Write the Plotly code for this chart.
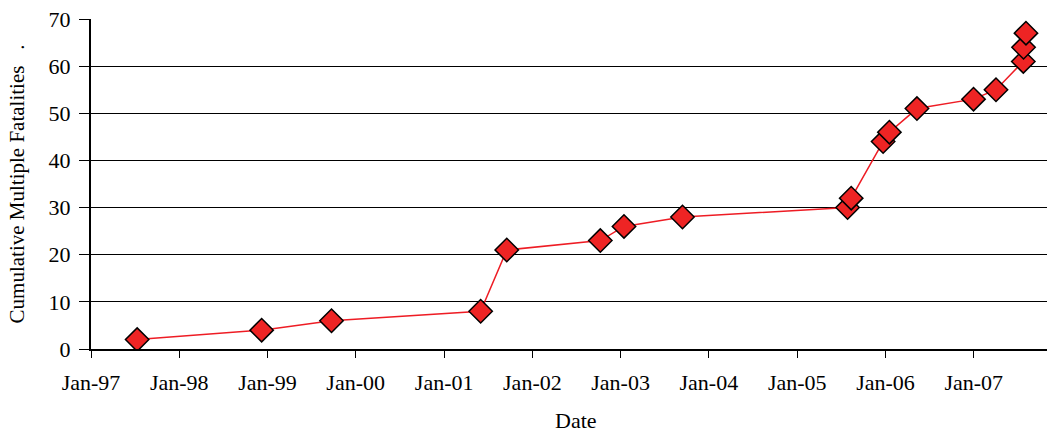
import plotly.graph_objects as go

dates = ["1997-07-11", "1998-12-08", "1999-09-23", "2001-06-01", "2001-09-17",
         "2002-10-09", "2003-01-15", "2003-09-14", "2005-07-28", "2005-08-12",
         "2005-12-22", "2006-01-17", "2006-05-11", "2006-12-31", "2007-04-03",
         "2007-07-25", "2007-07-26", "2007-08-05"]
cumulative = [2, 4, 6, 8, 21, 23, 26, 28, 30, 32, 44, 46, 51, 53, 55, 61, 64, 67]

tick_vals = ["1997-01-01", "1998-01-01", "1999-01-01", "2000-01-01", "2001-01-01",
             "2002-01-01", "2003-01-01", "2004-01-01", "2005-01-01", "2006-01-01",
             "2007-01-01"]
tick_text = ["Jan-97", "Jan-98", "Jan-99", "Jan-00", "Jan-01", "Jan-02", "Jan-03",
             "Jan-04", "Jan-05", "Jan-06", "Jan-07"]

x_title = "Date"
y_title = "Cumulative Multiple Fatalities\u00a0\u00a0\u00a0."

font_family = "Liberation Serif, Times New Roman, serif"

fig = go.Figure()
fig.add_trace(go.Scatter(
    x=dates, y=cumulative, mode="lines+markers",
    line=dict(color="#EE1C24", width=1.5),
    marker=dict(symbol="diamond", size=18, color="#EE2424",
                line=dict(color="black", width=1.5)),
    showlegend=False,
))

fig.update_layout(
    width=1049, height=434,
    margin=dict(l=91, r=2, t=19, b=85),
    paper_bgcolor="white", plot_bgcolor="white",
    font=dict(family=font_family, size=22, color="black"),
    xaxis=dict(
        type="date", range=["1997-01-01", "2007-10-31"],
        tickvals=tick_vals, ticktext=tick_text,
        ticks="outside", ticklen=7, tickcolor="black", tickwidth=1,
        showline=True, linecolor="black", linewidth=2,
        showgrid=False, zeroline=False,
        ticklabelstandoff=6, automargin=False,
    ),
    yaxis=dict(
        range=[0, 70], dtick=10,
        ticks="outside", ticklen=10, tickcolor="black", tickwidth=1,
        showline=True, linecolor="black", linewidth=2,
        showgrid=True, gridcolor="black", gridwidth=1,
        zeroline=False, ticklabelstandoff=4, automargin=False,
    ),
    annotations=[
        dict(text=x_title, xref="paper", yref="paper", x=0.507, y=-0.217,
             xanchor="center", yanchor="middle", showarrow=False,
             font=dict(size=22)),
        dict(text=y_title, xref="paper", yref="paper", x=-0.077, y=0.5,
             xanchor="center", yanchor="middle", showarrow=False,
             textangle=-90, font=dict(size=21)),
    ],
)

fig.write_html("out.html",
               config={"displayModeBar": False},
               post_script="document.body.style.margin='0';document.body.style.overflow='hidden';")
